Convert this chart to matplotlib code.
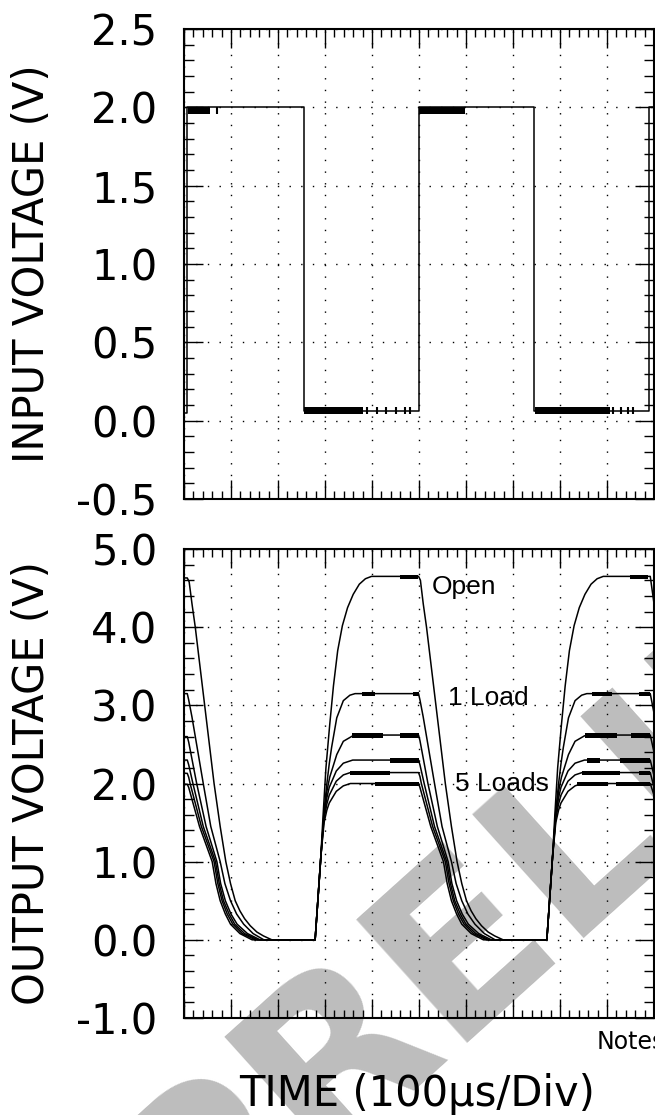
import matplotlib.pyplot as plt
from matplotlib.ticker import MultipleLocator, FormatStrFormatter

plt.rcParams['axes.unicode_minus'] = False
plt.rcParams['font.family'] = 'DejaVu Sans'

# input square wave (time in divisions, volts)
in_t = [0.0, 0.07, 0.07, 2.55, 2.55, 4.99, 4.99, 7.45, 7.45, 9.90, 9.90, 10.0]
in_v = [0.05, 0.05, 2.0, 2.0, 0.06, 0.06, 2.0, 2.0, 0.06, 0.06, 2.0, 2.0]

# noisy stretches on the input trace: start, end, low, high
in_noise_t0 = [0.09, 5.00, 2.55, 7.46]
in_noise_t1 = [0.55, 5.98, 3.81, 9.06]
in_noise_lo = [1.955, 1.955, 0.04, 0.04]
in_noise_hi = [2.0, 2.0, 0.085, 0.085]
in_spike_t = [0.70, 3.90, 4.10, 4.30, 4.50, 4.70, 4.80, 9.13, 9.30, 9.45, 9.55]
in_spike_lo = [1.955, 0.04, 0.04, 0.04, 0.04, 0.04, 0.04, 0.04, 0.04, 0.04, 0.04]
in_spike_hi = [2.0, 0.085, 0.085, 0.085, 0.085, 0.085, 0.085, 0.085, 0.085, 0.085, 0.085]

# output traces
open_t = [0.0, 0.07, 0.11, 0.17, 0.24, 0.44, 0.64, 0.77, 0.89, 0.99, 1.09, 1.19, 1.29, 1.41, 1.55, 1.69, 1.87,
          2.79, 2.90, 2.96, 3.02, 3.10, 3.18, 3.27, 3.37, 3.48, 3.60, 3.73, 3.86, 3.99,
          4.99, 5.03, 5.09, 5.16, 5.36, 5.56, 5.69, 5.81, 5.91, 6.01, 6.11, 6.21, 6.33, 6.47, 6.61, 6.79,
          7.72, 7.83, 7.89, 7.95, 8.03, 8.11, 8.20, 8.30, 8.41, 8.53, 8.66, 8.79, 8.92, 9.92, 10.0]
open_v = [4.63, 4.63, 4.58, 4.3, 4.0, 3.0, 2.0, 1.45, 1.0, 0.72, 0.5, 0.37, 0.27, 0.18, 0.1, 0.05, 0.0,
          0.0, 0.95, 1.6, 2.2, 2.75, 3.25, 3.7, 4.02, 4.25, 4.42, 4.55, 4.62, 4.65,
          4.65, 4.6, 4.3, 4.0, 3.0, 2.0, 1.45, 1.0, 0.72, 0.5, 0.37, 0.27, 0.18, 0.1, 0.05, 0.0,
          0.0, 0.95, 1.6, 2.2, 2.75, 3.25, 3.7, 4.02, 4.25, 4.42, 4.55, 4.62, 4.65, 4.65, 4.3]

load1_t = [0.0, 0.07, 0.10, 0.17, 0.41, 0.57, 0.77, 0.87, 0.99, 1.12, 1.27, 1.47, 1.70,
           2.79, 2.91, 2.98, 3.04, 3.09, 3.14, 3.25, 3.39, 3.53, 3.64,
           4.99, 5.02, 5.09, 5.33, 5.49, 5.69, 5.79, 5.91, 6.04, 6.19, 6.39, 6.62,
           7.72, 7.84, 7.91, 7.97, 8.02, 8.07, 8.18, 8.32, 8.46, 8.57, 9.92, 10.0]
load1_v = [3.15, 3.15, 3.07, 2.85, 2.0, 1.45, 1.0, 0.72, 0.5, 0.33, 0.2, 0.08, 0.0,
           0.0, 1.05, 1.65, 2.0, 2.25, 2.46, 2.84, 3.06, 3.13, 3.15,
           3.15, 3.07, 2.85, 2.0, 1.45, 1.0, 0.72, 0.5, 0.33, 0.2, 0.08, 0.0,
           0.0, 1.05, 1.65, 2.0, 2.25, 2.46, 2.84, 3.06, 3.13, 3.15, 3.15, 2.9]

load2_t = [0.0, 0.07, 0.10, 0.27, 0.47, 0.70, 0.78, 0.88, 1.00, 1.13, 1.35, 1.62,
           2.79, 2.91, 2.98, 3.04, 3.10, 3.25, 3.39, 3.59, 3.74,
           4.99, 5.02, 5.19, 5.39, 5.62, 5.70, 5.80, 5.92, 6.05, 6.27, 6.54,
           7.72, 7.84, 7.91, 7.97, 8.03, 8.18, 8.32, 8.52, 8.67, 9.92, 10.0]
load2_v = [2.60, 2.60, 2.53, 2.0, 1.45, 1.0, 0.72, 0.5, 0.33, 0.2, 0.08, 0.0,
           0.0, 1.05, 1.6, 1.9, 2.08, 2.37, 2.54, 2.61, 2.62,
           2.62, 2.55, 2.0, 1.45, 1.0, 0.72, 0.5, 0.33, 0.2, 0.08, 0.0,
           0.0, 1.05, 1.6, 1.9, 2.08, 2.37, 2.54, 2.61, 2.62, 2.62, 2.4]

load3_t = [0.0, 0.07, 0.10, 0.19, 0.41, 0.67, 0.75, 0.84, 0.96, 1.08, 1.29, 1.57,
           2.79, 2.91, 2.98, 3.04, 3.09, 3.24, 3.39, 3.59,
           4.99, 5.02, 5.11, 5.33, 5.59, 5.67, 5.76, 5.88, 6.00, 6.21, 6.49,
           7.72, 7.84, 7.91, 7.97, 8.02, 8.17, 8.32, 8.52, 9.92, 10.0]
load3_v = [2.30, 2.30, 2.24, 2.0, 1.45, 1.0, 0.72, 0.5, 0.33, 0.2, 0.08, 0.0,
           0.0, 1.05, 1.6, 1.82, 1.95, 2.16, 2.26, 2.30,
           2.30, 2.24, 2.0, 1.45, 1.0, 0.72, 0.5, 0.33, 0.2, 0.08, 0.0,
           0.0, 1.05, 1.6, 1.82, 1.95, 2.16, 2.26, 2.30, 2.30, 2.1]

load4_t = [0.0, 0.07, 0.10, 0.13, 0.37, 0.64, 0.72, 0.81, 0.92, 1.04, 1.24, 1.52,
           2.79, 2.91, 2.98, 3.04, 3.09, 3.24, 3.39, 3.54,
           4.99, 5.02, 5.05, 5.29, 5.56, 5.64, 5.73, 5.84, 5.96, 6.16, 6.44,
           7.72, 7.84, 7.91, 7.97, 8.02, 8.17, 8.32, 8.47, 9.92, 10.0]
load4_v = [2.13, 2.13, 2.08, 2.0, 1.45, 1.0, 0.72, 0.5, 0.33, 0.2, 0.08, 0.0,
           0.0, 1.05, 1.55, 1.74, 1.85, 2.03, 2.11, 2.14,
           2.14, 2.09, 2.0, 1.45, 1.0, 0.72, 0.5, 0.33, 0.2, 0.08, 0.0,
           0.0, 1.05, 1.55, 1.74, 1.85, 2.03, 2.11, 2.14, 2.14, 1.95]

load5_t = [0.0, 0.07, 0.10, 0.33, 0.60, 0.68, 0.77, 0.88, 0.99, 1.19, 1.45,
           2.79, 2.91, 2.98, 3.04, 3.09, 3.24, 3.39, 3.54,
           4.99, 5.02, 5.25, 5.52, 5.60, 5.69, 5.80, 5.91, 6.11, 6.37,
           7.72, 7.84, 7.91, 7.97, 8.02, 8.17, 8.32, 8.47, 9.92, 10.0]
load5_v = [1.99, 1.99, 1.95, 1.45, 1.0, 0.72, 0.5, 0.33, 0.2, 0.08, 0.0,
           0.0, 1.05, 1.5, 1.66, 1.75, 1.9, 1.97, 2.0,
           2.0, 1.95, 1.45, 1.0, 0.72, 0.5, 0.33, 0.2, 0.08, 0.0,
           0.0, 1.05, 1.5, 1.66, 1.75, 1.9, 1.97, 2.0, 2.0, 1.85]

# noisy stretches on the flat tops of the outputs: level, start, end
out_noise_v = [4.65, 4.65, 3.15, 3.15, 3.15, 3.15, 2.62, 2.62, 2.62, 2.62,
               2.30, 2.30, 2.30, 2.14, 2.14, 2.14, 2.0, 2.0, 2.0]
out_noise_t0 = [4.60, 9.49, 3.78, 4.88, 8.67, 9.67, 3.57, 4.60, 8.53, 9.52,
                4.38, 8.57, 9.28, 3.53, 8.46, 9.67, 4.06, 8.36, 9.20]
out_noise_t1 = [4.98, 9.88, 4.06, 5.00, 9.10, 9.91, 4.24, 4.99, 9.21, 9.91,
                4.99, 8.85, 9.91, 4.38, 9.28, 9.91, 4.99, 9.03, 9.91]

labels = ['Open', '1 Load', '5 Loads']
label_t = [5.28, 5.62, 5.77]
label_v = [4.51, 3.10, 1.99]

fig = plt.figure(figsize=(6.55, 11.15), dpi=100)
ax1 = fig.add_axes([0.2809, 0.5525, 0.7176, 0.4215])
ax2 = fig.add_axes([0.2809, 0.0870, 0.7176, 0.4206])

# watermark behind the plots
fig.text(0.2916, -0.1417, 'PRELIMINARY', rotation=42, rotation_mode='anchor',
         ha='left', va='baseline', fontsize=165, fontweight='bold',
         color='#bdbdbd', zorder=-1)

ax1.plot(in_t, in_v, color='k', lw=1.1)
for t0, t1, lo, hi in zip(in_noise_t0, in_noise_t1, in_noise_lo, in_noise_hi):
    ax1.fill_between([t0, t1], lo, hi, color='k', lw=0)
ax1.vlines(in_spike_t, in_spike_lo, in_spike_hi, color='k', lw=1.5)

for t, v in [(open_t, open_v), (load1_t, load1_v), (load2_t, load2_v),
             (load3_t, load3_v), (load4_t, load4_v), (load5_t, load5_v)]:
    ax2.plot(t, v, color='k', lw=1.1)
for lv, t0, t1 in zip(out_noise_v, out_noise_t0, out_noise_t1):
    ax2.fill_between([t0, t1], lv - 0.035, lv + 0.02, color='k', lw=0)

for s, t, v in zip(labels, label_t, label_v):
    ax2.text(t, v, s, fontsize=19, family='Liberation Sans', va='center', ha='left')

ax1.set_ylim(-0.5, 2.5)
ax2.set_ylim(-1.0, 5.0)
ax1.yaxis.set_major_locator(MultipleLocator(0.5))
ax1.yaxis.set_minor_locator(MultipleLocator(0.1))
ax2.yaxis.set_major_locator(MultipleLocator(1.0))
ax2.yaxis.set_minor_locator(MultipleLocator(0.2))

for ax in (ax1, ax2):
    ax.set_facecolor('none')
    ax.set_xlim(0, 10)
    ax.xaxis.set_major_locator(MultipleLocator(1))
    ax.xaxis.set_minor_locator(MultipleLocator(0.2))
    ax.yaxis.set_major_formatter(FormatStrFormatter('%.1f'))
    ax.tick_params(which='both', direction='in', top=True, right=True,
                   labelbottom=False, width=1.0, color='k')
    ax.tick_params(axis='x', which='major', length=14)
    ax.tick_params(axis='x', which='minor', length=6)
    ax.tick_params(axis='y', which='major', length=14, labelsize=30, pad=19)
    ax.tick_params(axis='y', which='minor', length=7)
    ax.grid(which='major', color='k', lw=1.0, ls=(0, (1, 7.4)))
    for sp in ax.spines.values():
        sp.set_linewidth(1.5)

ax1.set_ylabel('INPUT VOLTAGE (V)', fontsize=30)
ax2.set_ylabel('OUTPUT VOLTAGE (V)', fontsize=30)
ax1.yaxis.set_label_coords(-0.279, 0.5)
ax2.yaxis.set_label_coords(-0.279, 0.5)

ax2.set_xlabel('TIME (100µs/Div)', fontsize=30)
ax2.xaxis.set_label_coords(0.495, -0.117)

fig.text(597 / 655, 1 - 1042 / 1115, 'Notes', fontsize=17, va='center', ha='left')

fig.savefig('out.png', dpi=100)
